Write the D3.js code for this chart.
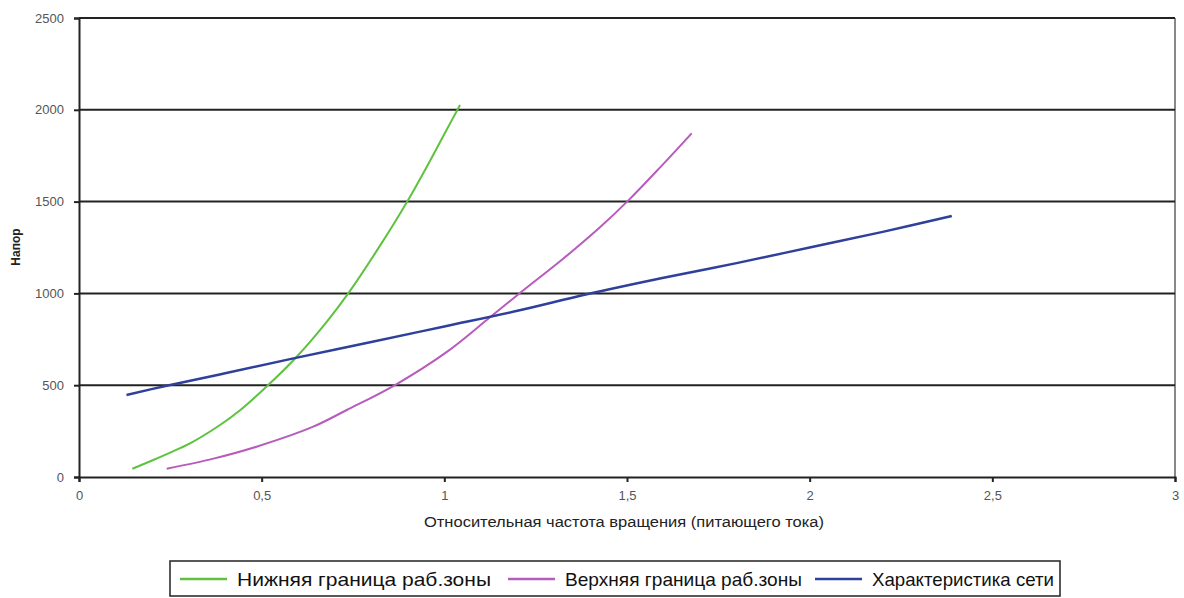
<!DOCTYPE html>
<html lang="ru">
<head>
<meta charset="utf-8">
<title>Напор</title>
<script src="https://d3js.org/d3.v7.min.js"></script>
<style>
body { margin: 0; background: #fff; }
.tick text { font: 13px "Liberation Sans", Arial, sans-serif; fill: #555; }
.legend text { font: 19px "Liberation Sans", Arial, sans-serif; fill: #111; }
</style>
</head>
<body>
<svg width="1184" height="598"></svg>
<script>
// data
var seriesNames = ["Нижняя граница раб.зоны", "Верхняя граница раб.зоны", "Характеристика сети"];
var seriesColors = ["#5ec23e", "#b75bbd", "#2e409b"];

var lowerX = [0.146, 0.2, 0.245, 0.304, 0.386, 0.44, 0.518, 0.596, 0.678, 0.737, 0.824, 0.901, 0.952, 1.006, 1.043];
var lowerY = [45, 90, 129, 183, 283, 362, 501, 655, 845, 1000, 1260, 1509, 1690, 1890, 2026];

var upperX = [0.24, 0.368, 0.486, 0.641, 0.733, 0.865, 1.006, 1.125, 1.212, 1.326, 1.426, 1.508, 1.59, 1.677];
var upperY = [45, 100, 165, 274, 365, 501, 680, 870, 1010, 1190, 1360, 1515, 1685, 1872];

var netX = [0.13, 0.24, 0.4, 0.587, 0.8, 1.0, 1.2, 1.39, 1.6, 1.8, 2.0, 2.2, 2.389];
var netY = [447, 497, 565, 646, 735, 820, 905, 995, 1085, 1165, 1250, 1335, 1422];

var xTicks = [0, 0.5, 1, 1.5, 2, 2.5, 3];
var yTicks = [0, 500, 1000, 1500, 2000, 2500];

var series = [
  { name: seriesNames[0], color: seriesColors[0], xs: lowerX, ys: lowerY },
  { name: seriesNames[1], color: seriesColors[1], xs: upperX, ys: upperY },
  { name: seriesNames[2], color: seriesColors[2], xs: netX, ys: netY }
];

var svg = d3.select("svg");
var plotL = 79, plotR = 1175, plotT = 18, plotB = 477;

var x = d3.scaleLinear().domain([0, 3]).range([plotL, plotR]);
var y = d3.scaleLinear().domain([0, 2500]).range([plotB, plotT]);
var fmt = function(d) { return String(d).replace(".", ","); };

// right border
svg.append("line")
   .attr("x1", plotR).attr("x2", plotR).attr("y1", plotT).attr("y2", plotB)
   .attr("stroke", "#888").attr("stroke-width", 2);

// horizontal grid
svg.append("g")
   .selectAll("line")
   .data(yTicks.slice(1))
   .enter().append("line")
   .attr("x1", plotL).attr("x2", plotR)
   .attr("y1", function(d) { return y(d); })
   .attr("y2", function(d) { return y(d); })
   .attr("stroke", "#222").attr("stroke-width", 2);

// axes
var gx = svg.append("g")
   .attr("transform", "translate(0," + plotB + ")")
   .call(d3.axisBottom(x).tickValues(xTicks).tickFormat(fmt).tickSize(5).tickPadding(9));
var gy = svg.append("g")
   .attr("transform", "translate(" + plotL + ",0)")
   .call(d3.axisLeft(y).tickValues(yTicks).tickFormat(fmt).tickSize(5).tickPadding(10));
[gx, gy].forEach(function(g) {
  g.select(".domain").attr("stroke", "#222").attr("stroke-width", 2);
  g.selectAll(".tick line").attr("stroke", "#222").attr("stroke-width", 2);
});

// lines
var line = d3.line()
   .x(function(d) { return x(d[0]); })
   .y(function(d) { return y(d[1]); })
   .curve(d3.curveCatmullRom);

svg.append("g")
   .selectAll("path")
   .data(series)
   .enter().append("path")
   .attr("d", function(s) { return line(d3.zip(s.xs, s.ys)); })
   .attr("fill", "none")
   .attr("stroke", function(s) { return s.color; })
   .attr("stroke-width", function(s, i) { return i == 2 ? 2.5 : 2; });

// axis titles
svg.append("text")
   .attr("x", 624).attr("y", 527)
   .attr("text-anchor", "middle")
   .attr("textLength", 400).attr("lengthAdjust", "spacingAndGlyphs")
   .style("font", "14px 'Liberation Sans', sans-serif")
   .attr("fill", "#222")
   .text("Относительная частота вращения (питающего тока)");

svg.append("text")
   .attr("transform", "translate(20,247) rotate(-90)")
   .attr("text-anchor", "middle")
   .style("font", "bold 12px 'Liberation Sans', sans-serif")
   .attr("fill", "#222")
   .text("Напор");

// legend
var legend = svg.append("g").attr("class", "legend");
legend.append("rect")
   .attr("x", 170).attr("y", 561).attr("width", 890).attr("height", 35)
   .attr("fill", "#fff").attr("stroke", "#222").attr("stroke-width", 1.5);

var legendX = [180, 508, 815];
var legendW = [254, 237, 182];
var item = legend.selectAll("g.item")
   .data(series)
   .enter().append("g")
   .attr("class", "item")
   .attr("transform", function(d, i) { return "translate(" + legendX[i] + ",579)"; });
item.append("line")
   .attr("x1", 0).attr("x2", 47)
   .attr("stroke", function(d) { return d.color; })
   .attr("stroke-width", 2.5);
item.append("text")
   .attr("x", 57).attr("dy", "0.35em")
   .attr("textLength", function(d, i) { return legendW[i]; })
   .attr("lengthAdjust", "spacingAndGlyphs")
   .text(function(d) { return d.name; });
</script>
</body>
</html>
